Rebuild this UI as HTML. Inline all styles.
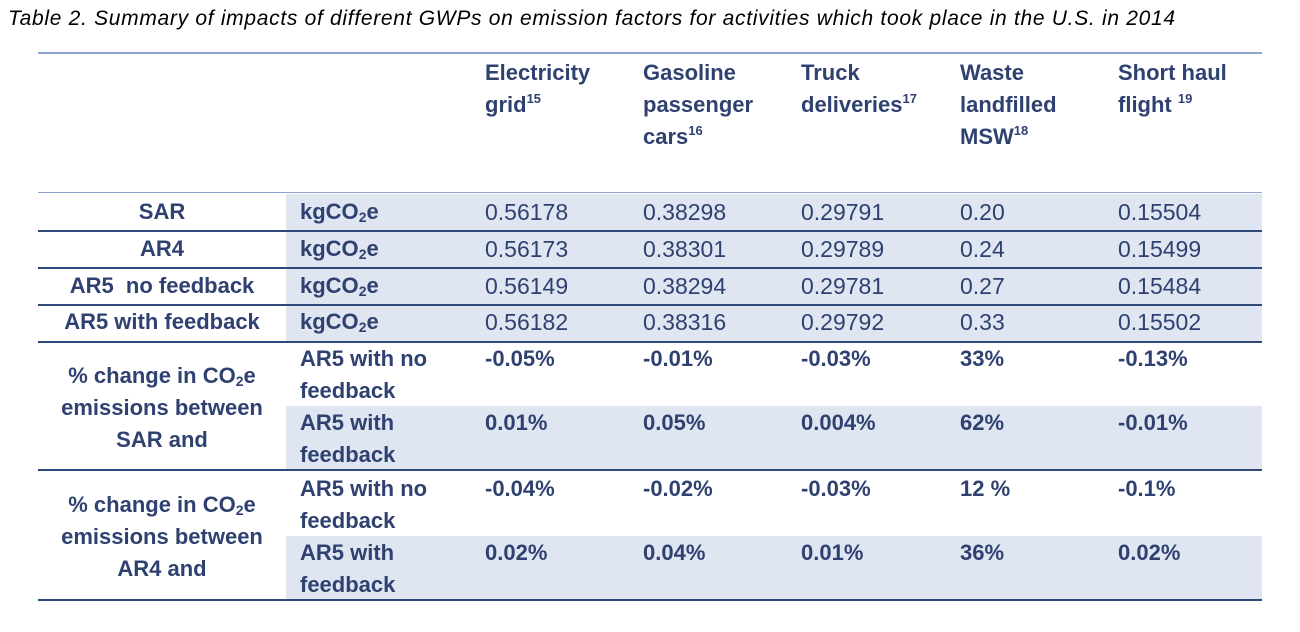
<!DOCTYPE html>
<html><head><meta charset="utf-8"><style>
body{margin:0;width:1300px;height:632px;background:#fff;position:relative;overflow:hidden;font-family:"Liberation Sans",sans-serif;color:#2f4170}
.a{position:absolute;white-space:nowrap}
.t{font-size:22px;line-height:32px}
.v{font-size:23px}
.b{font-weight:bold}
.bg{position:absolute;background:#dfe6f1}
.ln{position:absolute;left:38px;width:1224px;height:2px;background:#2f4a7a}
.c{width:248px;text-align:center;left:38px}
sub{font-size:14px;vertical-align:-3px;line-height:0}
sup{font-size:13px;vertical-align:9px;line-height:0}
</style></head><body>
<div class="a" style="left:8px;top:7px;font-size:21px;font-style:italic;color:#000;letter-spacing:0.7px">Table 2. Summary of impacts of different GWPs on emission factors for activities which took place in the U.S. in 2014</div>

<div class="bg" style="left:286px;top:194px;width:976px;height:148px"></div>
<div class="bg" style="left:286px;top:406px;width:976px;height:64px"></div>
<div class="bg" style="left:286px;top:536px;width:976px;height:64px"></div>

<div class="ln" style="top:52px;background:#8ea4cc"></div>
<div class="ln" style="top:192px;height:1px;background:#8ea4cc"></div>
<div class="ln" style="top:230px"></div>
<div class="ln" style="top:267px"></div>
<div class="ln" style="top:304px"></div>
<div class="ln" style="top:341px"></div>
<div class="ln" style="top:469px"></div>
<div class="ln" style="top:599px"></div>

<div class="a t b" style="left:485px;top:57px">Electricity<br>grid<sup>15</sup></div>
<div class="a t b" style="left:643px;top:57px">Gasoline<br>passenger<br>cars<sup>16</sup></div>
<div class="a t b" style="left:801px;top:57px">Truck<br>deliveries<sup>17</sup></div>
<div class="a t b" style="left:960px;top:57px">Waste<br>landfilled<br>MSW<sup>18</sup></div>
<div class="a t b" style="left:1118px;top:57px">Short haul<br>flight <sup>19</sup></div>

<div class="a t b c" style="top:196px">SAR</div>
<div class="a t b c" style="top:233px">AR4</div>
<div class="a t b c" style="top:270px">AR5&nbsp; no feedback</div>
<div class="a t b c" style="top:306px">AR5 with feedback</div>
<div class="a t b" style="left:300px;top:196px">kgCO<sub>2</sub>e</div>
<div class="a t b" style="left:300px;top:233px">kgCO<sub>2</sub>e</div>
<div class="a t b" style="left:300px;top:270px">kgCO<sub>2</sub>e</div>
<div class="a t b" style="left:300px;top:306px">kgCO<sub>2</sub>e</div>

<div class="a t v" style="left:485px;top:196px">0.56178<br><span style="position:relative;top:5px">0.56173</span></div>
<div class="a t v" style="left:485px;top:270px">0.56149<br><span style="position:relative;top:4px">0.56182</span></div>
<div class="a t v" style="left:643px;top:196px">0.38298<br><span style="position:relative;top:5px">0.38301</span></div>
<div class="a t v" style="left:643px;top:270px">0.38294<br><span style="position:relative;top:4px">0.38316</span></div>
<div class="a t v" style="left:801px;top:196px">0.29791<br><span style="position:relative;top:5px">0.29789</span></div>
<div class="a t v" style="left:801px;top:270px">0.29781<br><span style="position:relative;top:4px">0.29792</span></div>
<div class="a t v" style="left:960px;top:196px">0.20<br><span style="position:relative;top:5px">0.24</span></div>
<div class="a t v" style="left:960px;top:270px">0.27<br><span style="position:relative;top:4px">0.33</span></div>
<div class="a t v" style="left:1118px;top:196px">0.15504<br><span style="position:relative;top:5px">0.15499</span></div>
<div class="a t v" style="left:1118px;top:270px">0.15484<br><span style="position:relative;top:4px">0.15502</span></div>

<div class="a t b c" style="top:360px">% change in CO<sub>2</sub>e<br>emissions between<br>SAR and</div>
<div class="a t b c" style="top:489px">% change in CO<sub>2</sub>e<br>emissions between<br>AR4 and</div>

<div class="a t b" style="left:300px;top:343px">AR5 with no<br>feedback<br>AR5 with<br>feedback</div>
<div class="a t b" style="left:300px;top:473px">AR5 with no<br>feedback<br>AR5 with<br>feedback</div>

<div class="a t b" style="left:485px;top:343px">-0.05%</div>
<div class="a t b" style="left:485px;top:407px">0.01%</div>
<div class="a t b" style="left:485px;top:473px">-0.04%</div>
<div class="a t b" style="left:485px;top:537px">0.02%</div>
<div class="a t b" style="left:643px;top:343px">-0.01%</div>
<div class="a t b" style="left:643px;top:407px">0.05%</div>
<div class="a t b" style="left:643px;top:473px">-0.02%</div>
<div class="a t b" style="left:643px;top:537px">0.04%</div>
<div class="a t b" style="left:801px;top:343px">-0.03%</div>
<div class="a t b" style="left:801px;top:407px">0.004%</div>
<div class="a t b" style="left:801px;top:473px">-0.03%</div>
<div class="a t b" style="left:801px;top:537px">0.01%</div>
<div class="a t b" style="left:960px;top:343px">33%</div>
<div class="a t b" style="left:960px;top:407px">62%</div>
<div class="a t b" style="left:960px;top:473px">12 %</div>
<div class="a t b" style="left:960px;top:537px">36%</div>
<div class="a t b" style="left:1118px;top:343px">-0.13%</div>
<div class="a t b" style="left:1118px;top:407px">-0.01%</div>
<div class="a t b" style="left:1118px;top:473px">-0.1%</div>
<div class="a t b" style="left:1118px;top:537px">0.02%</div>
</body></html>
